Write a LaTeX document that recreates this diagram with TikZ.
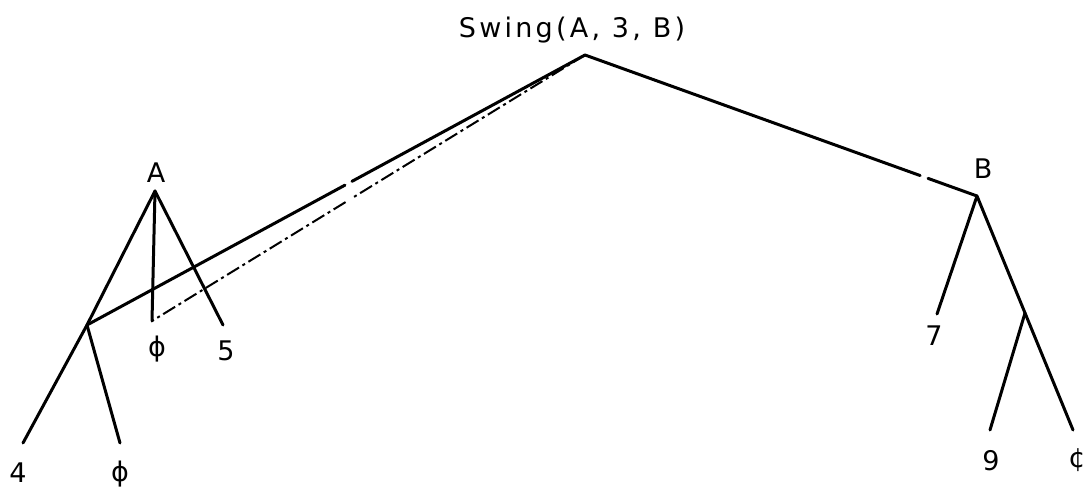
\documentclass[tikz,border=0pt]{standalone}
\usepackage{fontspec}
\setmainfont{DejaVu Sans}
\usetikzlibrary{calc}
\tikzset{
  br/.style={line width=3pt, line cap=round},
  dbr/.style={line width=2pt, dash pattern=on 14pt off 4pt on 3pt off 4pt},
  lbl/.style={font=\fontsize{27}{30}\selectfont, inner sep=0pt},
}
\begin{document}
\begin{tikzpicture}[x=1pt,y=-1pt]
\useasboundingbox (0,0) rectangle (1091,498);
% points
\coordinate (root) at (585,55);
\coordinate (B) at (977,196);
\coordinate (A) at (155,191);
\coordinate (A1) at (87,325);
\coordinate (Am) at (152,321);
\coordinate (A5) at (223,325);
\coordinate (L4) at (23,443);
\coordinate (Lp) at (120,443);
\coordinate (B7) at (937,314);
\coordinate (B1) at (1025,313);
\coordinate (B9) at (990,430);
\coordinate (Bc) at (1073,430);
% labels
\node[lbl, anchor=base] (tswing) at (572,37) {\addfontfeature{LetterSpace=12}Swing(A, 3, B)};
\node[lbl, anchor=base] (tA) at (156,182) {A};
\node[lbl, anchor=base] (tB) at (983,178) {B};
\node[lbl] (tphi1) at (157,349) {ϕ};
\node[lbl, anchor=base] (t5) at (226,360) {5};
\node[lbl] (t4) at (18,473) {4};
\node[lbl] (tphi2) at (120,474) {ϕ};
\node[lbl, anchor=base] (t7) at (934,345) {7};
\node[lbl] (t9) at (991,461) {9};
\node[lbl] (tc) at (1077,460) {¢};
% root to B (with gap)
\draw[br] (root) -- ($(root)!0.855!(B)$);
\draw[br] ($(root)!0.875!(B)$) -- (B);
% root to A1 (with gap)
\draw[br] (root) -- ($(root)!0.468!(A1)$);
\draw[br] ($(root)!0.482!(A1)$) -- (A1);
% root to A middle leaf (dashed)
\draw[dbr] (root) -- ($(root)!0.535!(Am)$);
\draw[dbr] ($(root)!0.553!(Am)$) -- (Am);
% A subtree
\draw[br] (A) -- (A1);
\draw[br] (A1) -- (L4);
\draw[br] (A1) -- (Lp);
\draw[br] (A) -- (Am);
\draw[br] (A) -- (A5);
% B subtree
\draw[br] (B) -- (B7);
\draw[br] (B) -- (B1);
\draw[br] (B1) -- (B9);
\draw[br] (B1) -- (Bc);
\end{tikzpicture}
\end{document}
